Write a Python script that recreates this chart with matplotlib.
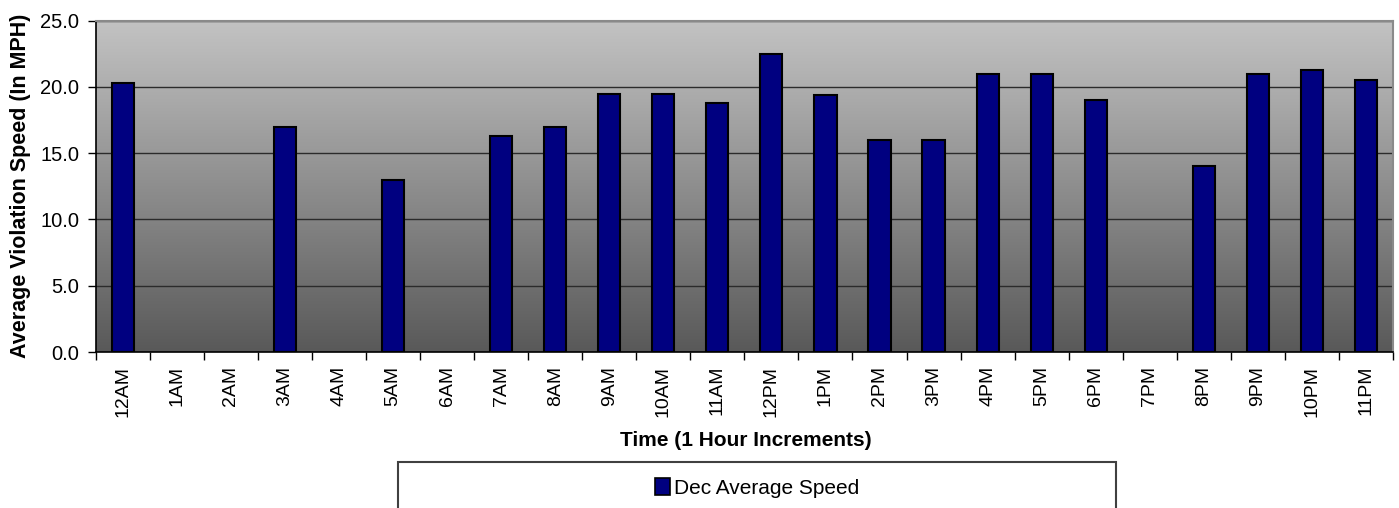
import matplotlib
matplotlib.use("Agg")
import matplotlib.pyplot as plt
import numpy as np
from matplotlib.patches import Rectangle, Patch
from matplotlib.ticker import FormatStrFormatter, FixedLocator
from matplotlib.colors import LinearSegmentedColormap

hours = ["12AM", "1AM", "2AM", "3AM", "4AM", "5AM", "6AM", "7AM", "8AM", "9AM",
         "10AM", "11AM", "12PM", "1PM", "2PM", "3PM", "4PM", "5PM", "6PM", "7PM",
         "8PM", "9PM", "10PM", "11PM"]
# hours without recorded violations are left empty
avg_speed = [20.3, None, None, 17.0, None, 13.0, None, 16.3, 17.0, 19.5,
             19.5, 18.8, 22.5, 19.4, 16.0, 16.0, 21.0, 21.0, 19.0, None,
             14.0, 21.0, 21.3, 20.5]
series_name = "Dec Average Speed"
y_ticks = [0, 5, 10, 15, 20, 25]

plt.rcParams["font.family"] = ["Liberation Sans", "DejaVu Sans"]

W, H = 1399, 508
fig = plt.figure(figsize=(W / 100, H / 100), dpi=100)
left, right, top, bottom = 95.7, 1393, 20.7, 352
ax = fig.add_axes([left / W, 1 - bottom / H, (right - left) / W, (bottom - top) / H])

# vertical grey gradient for the plot area
grad = np.linspace(0, 1, 256).reshape(-1, 1)
ax.imshow(grad, extent=[0, len(hours), 0, 25], aspect="auto", origin="lower",
          cmap=LinearSegmentedColormap.from_list("bg", ["#595959", "#c3c3c3"]),
          zorder=0)

x = np.arange(len(hours)) + 0.5
heights = np.array([np.nan if v is None else v for v in avg_speed], dtype=float)
ax.bar(x, heights, width=0.41, color="#000080", edgecolor="black",
       linewidth=1.5, zorder=3)

ax.set_xlim(0, len(hours))
ax.set_ylim(0, 25)
ax.set_yticks(y_ticks)
ax.yaxis.set_major_formatter(FormatStrFormatter("%.1f"))
ax.yaxis.grid(True, color="#2b2b2b", linewidth=1.0)
for gl in ax.get_ygridlines():
    gl.set_zorder(1)

ax.set_xticks(x)
ax.set_xticklabels(hours, rotation=90)
ax.xaxis.set_minor_locator(FixedLocator(np.arange(len(hours) + 1)))
ax.tick_params(axis="x", which="major", length=0, pad=10, labelsize=14)
ax.tick_params(axis="x", which="minor", length=6, width=1, color="black")
ax.tick_params(axis="y", length=6, width=1, labelsize=14.5, pad=6)

for s in ("top", "right"):
    ax.spines[s].set_color("#8a8a8a")
    ax.spines[s].set_linewidth(1.5)
for s in ("left", "bottom"):
    ax.spines[s].set_color("black")
    ax.spines[s].set_linewidth(1.2)

fig.text(21 / W, 1 - 186 / H, "Average Violation Speed (In MPH)", rotation=90,
         ha="center", va="center", fontsize=15.5, fontweight="bold")

fig.text(746 / W, 1 - 441 / H, "Time (1 Hour Increments)", ha="center",
         va="center", fontsize=15, fontweight="bold")

# legend box, running off the bottom edge of the figure
fig.patches.append(Rectangle((398 / W, 1 - 540 / H), (1116 - 398) / W, (540 - 461.7) / H,
                             transform=fig.transFigure, facecolor="white",
                             edgecolor="#404040", linewidth=1.5, zorder=1))
handle = Patch(facecolor="#000080", edgecolor="black", linewidth=1.2)
fig.legend([handle], [series_name], loc="center", bbox_to_anchor=(757 / W, 1 - 488 / H),
           frameon=False, fontsize=15, handlelength=0.7, handleheight=0.9,
           handletextpad=0.2)

fig.savefig("out.png", dpi=100)
